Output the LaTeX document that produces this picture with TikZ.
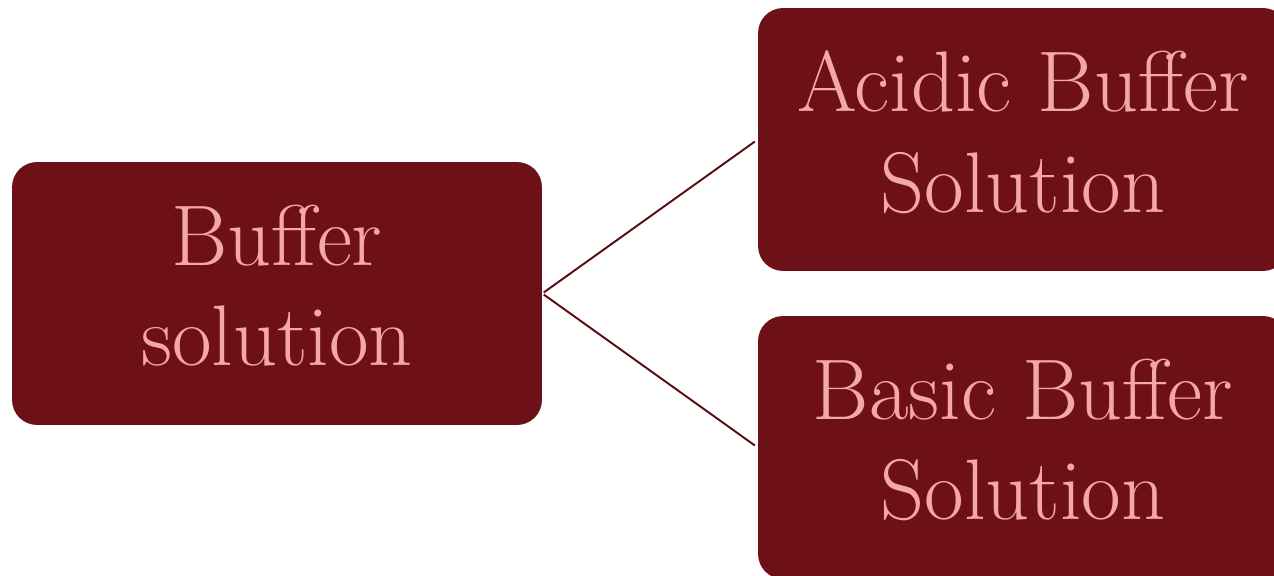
\documentclass[tikz,border=0pt]{standalone}
\usepackage{tikz}

\definecolor{boxred}{RGB}{110,16,23}
\definecolor{textpink}{RGB}{244,167,169}
\definecolor{linered}{RGB}{92,10,16}

\tikzset{
    bufbox/.style={fill=boxred, text=textpink, rounded corners=0.5cm,
        minimum width=10.6cm, minimum height=5.26cm, align=center,
        font=\fontsize{49}{57}\selectfont, text depth=9pt},
    link/.style={draw=linered, line width=1.1pt}
}

\begin{document}
\begin{tikzpicture}[x=0.02cm,y=-0.02cm]
    \useasboundingbox (0,0) rectangle (1274,575);
    \clip (0,0) rectangle (1274,575);
    %left box
    \node[bufbox] (buffer) at (277,293.5) {Buffer\\solution};
    %right boxes
    \node[bufbox] (acidic) at (1023,139.5) {Acidic Buffer\\Solution};
    \node[bufbox] (basic) at (1023,447.5) {Basic Buffer\\Solution};
    %connectors
    \draw[link, shorten <=1pt, shorten >=2pt] (buffer.east) -- (acidic.west);
    \draw[link, shorten <=1pt, shorten >=2pt] (buffer.east) -- (basic.west);
\end{tikzpicture}
\end{document}
